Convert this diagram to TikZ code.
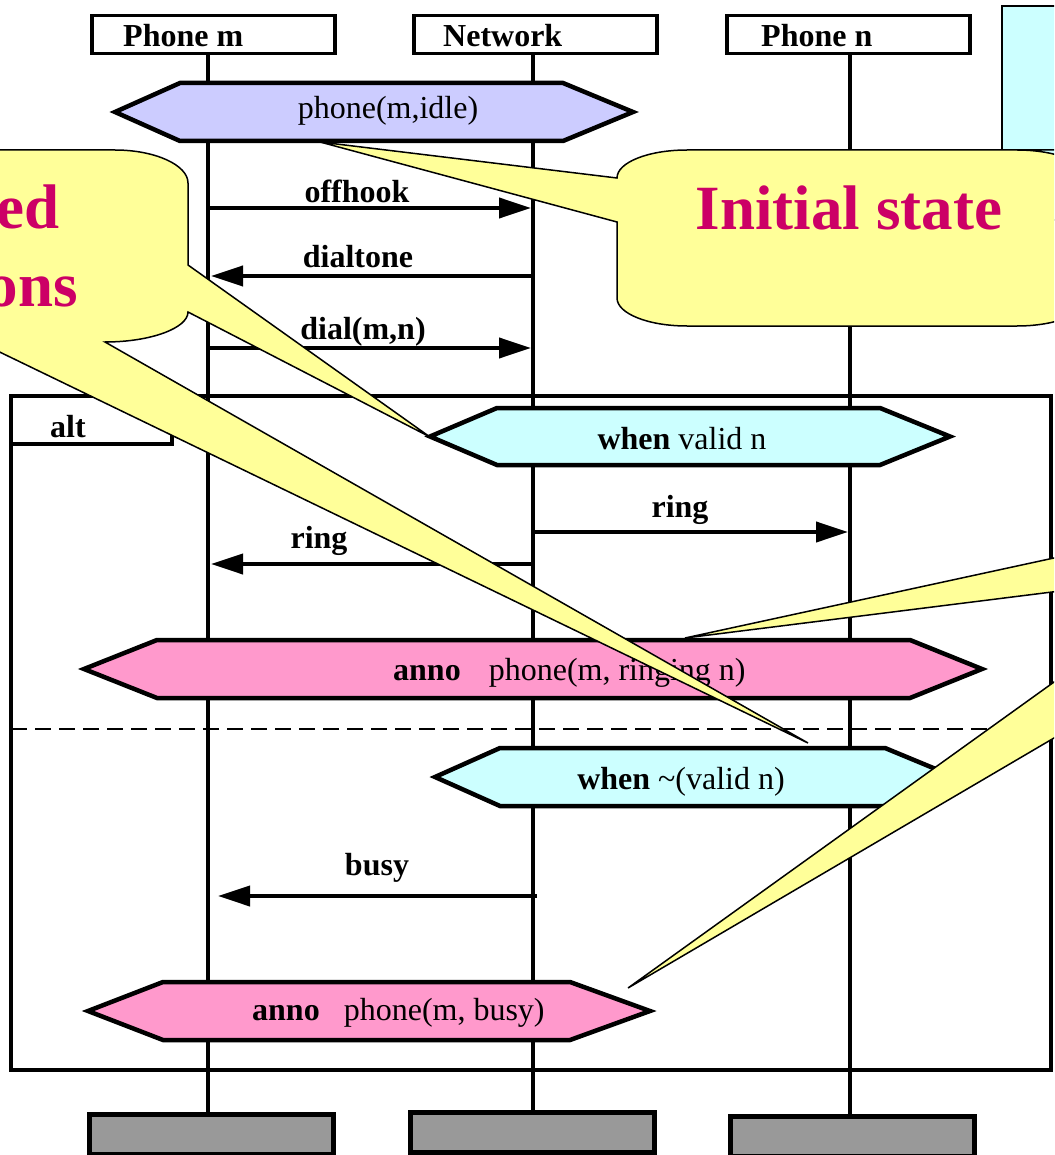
\documentclass[tikz,border=0pt]{standalone}
\usepackage{fontspec}
\setmainfont{Liberation Serif}
\usetikzlibrary{arrows.meta}
\definecolor{idlefill}{HTML}{CCCCFF}
\definecolor{whenfill}{HTML}{CCFFFF}
\definecolor{annofill}{HTML}{FF99CC}
\definecolor{notefill}{HTML}{FFFF99}
\definecolor{notetext}{HTML}{CC0066}
\definecolor{endfill}{HTML}{999999}

% state band: #1 fill, #2 left tip x, #3 top-left x, #4 top-right x, #5 right tip x, #6 top y, #7 bottom y
\newcommand\hexband[7]{%
  \filldraw[hexline, fill=#1] (#2,{(#6+#7)/2}) -- (#3,#6) -- (#4,#6) -- (#5,{(#6+#7)/2}) -- (#4,#7) -- (#3,#7) -- cycle;}

\begin{document}
\begin{tikzpicture}[x=1pt,y=-1pt,
  lbl/.style={font=\fontsize{32}{36}\selectfont, inner sep=0pt},
  blbl/.style={font=\fontsize{32}{36}\selectfont\bfseries, inner sep=0pt},
  headbox/.style={draw, line width=3.5pt, fill=white, anchor=north west, minimum width=243pt, minimum height=38pt, inner sep=0pt},
  endbox/.style={draw, line width=5pt, fill=endfill, anchor=north west, minimum width=244pt, minimum height=40pt, inner sep=0pt},
  lifeline/.style={line width=3.5pt},
  msg/.style={line width=4pt, -{Triangle[length=32pt,width=20pt]}},
  hexline/.style={line width=4.5pt, line join=miter},
  frameline/.style={line width=3.5pt},
  note/.style={draw, line width=1.5pt, fill=notefill, line join=miter},
  notetxt/.style={font=\fontsize{63}{70}\selectfont\bfseries, text=notetext, inner sep=0pt}]

\useasboundingbox (0,0) rectangle (1054,1155);
\fill[white] (0,0) rectangle (1054,1155);
\clip (0,0) rectangle (1054,1155);

% partly hidden panel at the upper right
\filldraw[fill=whenfill, line width=1.5pt] (1002,6) rectangle (1120,220);

% lifeline anchors
\coordinate (pmT) at (208,52);  \coordinate (pmB) at (208,1112);
\coordinate (nwT) at (533,52);  \coordinate (nwB) at (533,1110);
\coordinate (pnT) at (850,52);  \coordinate (pnB) at (850,1114);
\draw[lifeline] (pmT) -- (pmB);
\draw[lifeline] (nwT) -- (nwB);
\draw[lifeline] (pnT) -- (pnB);

% instance heads
\node[headbox] (hm) at (90,14) {};
\node[headbox] (hn) at (412,14) {};
\node[headbox] (hp) at (725,14) {};
\node[blbl, anchor=base west] (hmt) at (123,47) {Phone m};
\node[blbl, anchor=base west] (hnt) at (443,47) {Network};
\node[blbl, anchor=base west] (hpt) at (761,47) {Phone n};

% instance ends
\node[endbox] (em) at (87,1112) {};
\node[endbox] (en) at (408,1110) {};
\node[endbox] (ep) at (728,1114) {};

% alt frame
\draw[frameline] (11,396) rectangle (1051,1070);
\draw[frameline] (11,444) -- (172,444) -- (172,396);
\node[blbl, anchor=base] (altlbl) at (68,437) {alt};
\draw[line width=2pt, dash pattern=on 16pt off 8pt] (11,729) -- (1051,729);

% message rows
\coordinate (r1) at (0,208);
\coordinate (r2) at (0,276);
\coordinate (r3) at (0,348);
\coordinate (r4) at (0,532);
\coordinate (r5) at (0,564);
\coordinate (r6) at (0,896);

\draw[msg, shorten >=2pt] (pmT |- r1) -- (nwT |- r1);
\draw[msg, shorten >=3pt] (nwT |- r2) -- (pmT |- r2);
\draw[msg, shorten >=2pt] (pmT |- r3) -- (nwT |- r3);
\draw[msg, shorten >=2pt] (nwT |- r4) -- (pnT |- r4);
\draw[msg, shorten >=3pt] (nwT |- r5) -- (pmT |- r5);
\draw[msg, shorten <=-4pt, shorten >=10pt] (nwT |- r6) -- (pmT |- r6);

\node[blbl, anchor=base] (l1) at (357,203) {offhook};
\node[blbl, anchor=base] (l2) at (358,268) {dialtone};
\node[blbl, anchor=base] (l3) at (363,339) {dial(m,n)};
\node[blbl, anchor=base] (l4) at (680,517) {ring};
\node[blbl, anchor=base] (l5) at (319,548) {ring};
\node[blbl, anchor=base] (l6) at (377,875) {busy};

% state and condition bands
\hexband{idlefill}{115}{180}{563}{633}{83}{141}
\node[lbl, anchor=base] (sidle) at (388,119) {phone(m,idle)};

\hexband{whenfill}{430}{497}{880}{950}{408}{465}
\node[lbl, anchor=base] (cvalid) at (682,449) {\textbf{when} valid n};

\hexband{annofill}{84}{157}{910}{982}{640}{698}
\node[lbl, anchor=base west] (sring) at (393,680) {\textbf{anno}\hspace*{28pt}phone(m, ringing n)};

\hexband{whenfill}{435}{500}{885}{955}{748}{806}
\node[lbl, anchor=base] (cnot) at (681,789) {\textbf{when} \textasciitilde(valid n)};

\hexband{annofill}{88}{163}{570}{650}{982}{1040}
\node[lbl, anchor=base west] (sbusy) at (252,1020) {\textbf{anno}\hspace*{24pt}phone(m, busy)};

% callouts
\filldraw[note] (1120,150) -- (687,150) .. controls (648,150) and (617,162.5) .. (617,178)
  -- (320,142) -- (617,222) -- (617,298) .. controls (617,313.5) and (648,326) .. (687,326)
  -- (1017,326) .. controls (1056,326) and (1087,313.5) .. (1087,298) -- (1087,178)
  .. controls (1087,162.5) and (1056,150) .. (1017,150) -- cycle;
\node[notetxt, anchor=base] (ninit) at (849,230) {Initial state};

\filldraw[note] (-100,150) -- (115,150) .. controls (155,150) and (188,165) .. (188,183)
  -- (188,265) -- (430,437) -- (188,312) .. controls (188,328) and (151,342) .. (105,342)
  -- (808,743) -- (-50,328) -- cycle;
\node[notetxt, anchor=base east] (nl1) at (60,229) {ed};
\node[notetxt, anchor=base east] (nl2) at (78,306) {ons};

\filldraw[note] (1100,548) -- (685,638) -- (1100,586) -- cycle;
\filldraw[note] (1100,649) -- (628,988) -- (1100,711) -- cycle;

\end{tikzpicture}
\end{document}
